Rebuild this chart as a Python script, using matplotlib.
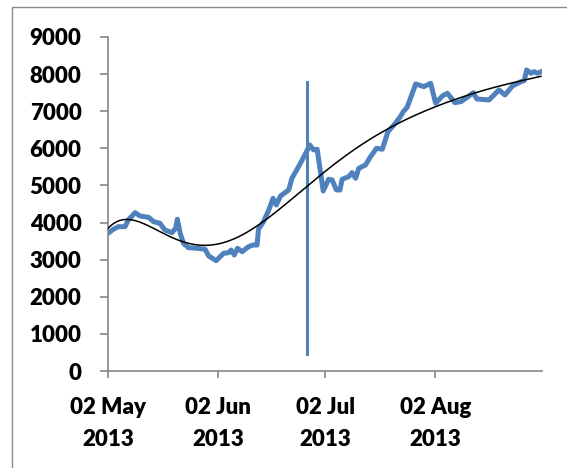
import numpy as np
import pandas as pd
import matplotlib
matplotlib.use('Agg')
from matplotlib import pyplot as plt
from matplotlib import font_manager
import matplotlib.dates as mdates
from matplotlib.patches import Rectangle

# pick a family that really has a bold face installed
bold_family = 'DejaVu Sans'
for fam in ['Lato', 'Roboto', 'Open Sans', 'Noto Sans', 'Liberation Sans']:
    faces = [f for f in font_manager.fontManager.ttflist if f.name == fam]
    if any((f.weight if isinstance(f.weight, int) else 700 if 'bold' in str(f.weight) else 400) >= 700
           for f in faces):
        bold_family = fam
        break
plt.rcParams['font.family'] = [bold_family, 'DejaVu Sans']
plt.rcParams['font.weight'] = 'heavy'

start = pd.Timestamp('2013-05-02')

# blue series (days after 02 May 2013, value)
data_days = [0, 1.5, 2.9, 4.8, 5.7, 7.6, 9, 11.4, 12.8, 14.6, 16, 18, 19, 19.5, 20.3,
             21.2, 22.6, 25, 27.3, 28.3, 30.4, 32.5, 33.9, 34.6, 35.5, 36.4, 37.7,
             39.5, 40.8, 41.9, 42.3, 43.7, 45.2, 46.4, 47.3, 48.5, 50.8, 51.7, 54.1,
             55.8, 56.7, 57.8, 58.8, 60.5, 62, 63, 64.2, 65.2, 65.8, 67.7, 68.6, 69.6,
             70.5, 72.4, 73.8, 75.5, 77.1, 78.7, 80.8, 82.3, 83, 84.1, 86.5, 88.8,
             90.7, 92.1, 94, 95.4, 97.5, 99.2, 101, 102.7, 103.7, 107.1, 109.9, 111.6,
             113.7, 116.1, 117, 117.7, 118.9, 119.8, 120.7, 121.8]
data_vals = [3711, 3819, 3889, 3889, 4070, 4266, 4177, 4142, 4024, 3980, 3800, 3728, 3846, 4088, 3711,
             3442, 3323, 3307, 3280, 3100, 2973, 3172, 3188, 3261, 3126, 3307, 3215,
             3350, 3396, 3396, 3819, 4024, 4339, 4654, 4474, 4716, 4878, 5193, 5598,
             5910, 6091, 5956, 5975, 4850, 5166, 5148, 4878, 4878, 5166, 5237, 5345, 5193,
             5463, 5552, 5776, 6002, 5975, 6449, 6675, 6872, 6988, 7107, 7735, 7662,
             7753, 7215, 7411, 7484, 7231, 7258, 7376, 7500, 7330, 7303, 7573, 7438,
             7681, 7797, 7824, 8112, 8023, 8066, 8023, 8066]

# black trend line readings
trend_days = [0, 2.4, 5.7, 9, 12.8, 16.5, 21.2, 25.9, 29.7, 33.4, 38.1, 42.8, 47.5, 52.2,
              56, 59.7, 65.4, 71, 76.6, 82.3, 87.9, 93.5, 99.2, 104.8, 110.4, 116, 121.7]
trend_vals = [3846, 4024, 4070, 3997, 3846, 3684, 3504, 3396, 3377, 3458, 3665, 3962, 4358, 4698,
              4986, 5290, 5686, 6002, 6406, 6764, 6988, 7169, 7349, 7527, 7681, 7843, 7931]

# vertical marker
spike_day = 56
spike_low, spike_high = 460, 7790

tick_dates = ['2013-05-02', '2013-06-02', '2013-07-02', '2013-08-02']
y_ticks = [0, 1000, 2000, 3000, 4000, 5000, 6000, 7000, 8000, 9000]

blue = '#4F81BD'
axis_grey = '#868686'

fig = plt.figure(figsize=(5.67, 4.68), dpi=100)
ax = fig.add_axes([108 / 567, 1 - 371 / 468, (542 - 108) / 567, (371 - 37) / 468])

x_data = start + pd.to_timedelta(data_days, unit='D')
ax.plot(x_data, data_vals, color=blue, linewidth=3.6, solid_joinstyle='round', zorder=2)

trend = np.polynomial.Polynomial.fit(trend_days, trend_vals, 7)
t = np.linspace(trend_days[0], trend_days[-1], 300)
ax.plot(start + pd.to_timedelta(t, unit='D'), trend(t), color='black', linewidth=1.1, zorder=3)

sx = start + pd.Timedelta(days=spike_day)
ax.plot([sx, sx], [spike_low, spike_high], color=blue, linewidth=2.2, zorder=2)

ax.set_xlim(start, pd.Timestamp('2013-09-01'))
ax.set_ylim(0, 9000)
ax.set_yticks(y_ticks)
ax.set_xticks(pd.to_datetime(tick_dates))
ax.xaxis.set_major_formatter(mdates.DateFormatter('%d %b\n%Y'))

for s in ['top', 'right']:
    ax.spines[s].set_visible(False)
for s in ['left', 'bottom']:
    ax.spines[s].set_color(axis_grey)
    ax.spines[s].set_linewidth(1.2)

ax.tick_params(axis='y', direction='out', length=6, width=1.2, color=axis_grey, pad=13, labelsize=16)
ax.tick_params(axis='x', direction='out', length=5, width=1.2, color=axis_grey, pad=14, labelsize=16)
for lab in ax.get_xticklabels():
    lab.set_linespacing(1.6)
    lab.set_fontweight('heavy')
for lab in ax.get_yticklabels():
    lab.set_fontweight('heavy')

# chart area border (partly cut off on the right and bottom)
fig.patches.append(Rectangle((12 / 567, -0.1), 1.2, 1 - 7 / 468 + 0.1, transform=fig.transFigure,
                             fill=False, edgecolor='#8c8c8c', linewidth=1.0))

fig.savefig('out.png', dpi=100)
